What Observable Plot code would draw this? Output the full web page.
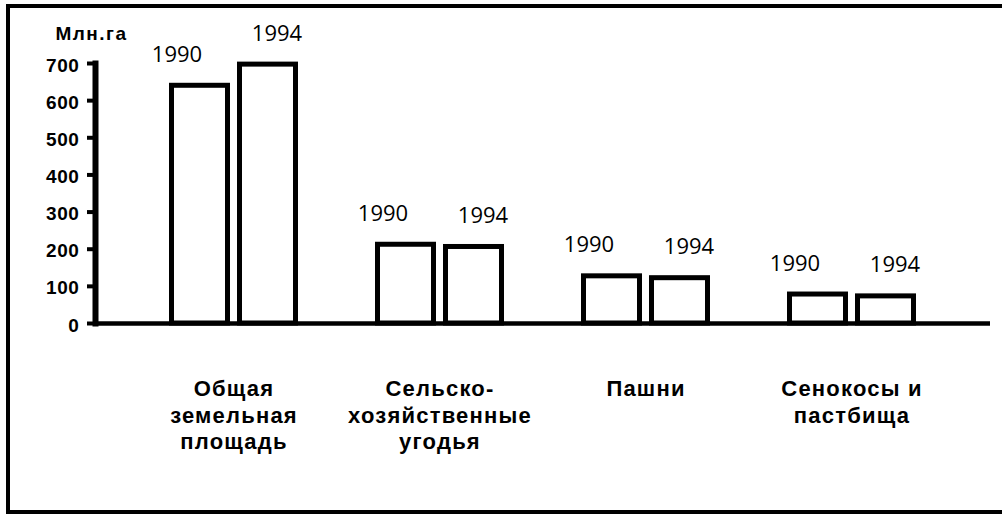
<!DOCTYPE html>
<html>
<head>
<meta charset="utf-8">
<script src="https://cdn.jsdelivr.net/npm/d3@7"></script>
<script src="https://cdn.jsdelivr.net/npm/@observablehq/plot@0.6"></script>
<style>
  html, body { margin: 0; padding: 0; background: white; }
  #chart svg { display: block; }
  .ytick text { letter-spacing: 0.6px; }
  .ylab text { letter-spacing: 1.5px; }
  .cat text { letter-spacing: 1.2px; }
</style>
</head>
<body>
<div id="chart"></div>
<script>
const categories = [
  "Общая\nземельная\nплощадь",
  "Сельско-\nхозяйственные\nугодья",
  "Пашни",
  "Сенокосы и\nпастбища"
];
const years = ["1990", "1994"];
const values1990 = [640, 212, 127, 78];
const values1994 = [697, 206, 122, 73];
const yTicks = [0, 100, 200, 300, 400, 500, 600, 700];
const yLabel = "Млн.га";

const rows = [];
categories.forEach((c, i) => {
  rows.push({category: c, year: years[0], value: values1990[i]});
  rows.push({category: c, year: years[1], value: values1994[i]});
});
const r1990 = rows.filter(d => d.year === years[0]);
const r1994 = rows.filter(d => d.year === years[1]);

const barStyle = {x: "category", y: "value", fill: "white", stroke: "black", strokeWidth: 5, strokeLinejoin: "miter", insetLeft: 54.5, insetRight: 54.5};
const yearText = {x: "category", y: "value", text: "year", fontFamily: "Open Sans", fontSize: 22, lineAnchor: "middle", dy: -31};

const chart = Plot.plot({
  width: 1002,
  height: 514,
  marginLeft: 95,
  marginRight: 12,
  marginTop: 63,
  marginBottom: 191,
  style: {background: "white", fontFamily: "Liberation Sans, Arial, sans-serif", color: "black", overflow: "visible"},
  x: {domain: categories, paddingInner: 0.2, paddingOuter: 0.27, axis: null},
  y: {domain: [0, 700]},
  marks: [
    Plot.barY(r1990, {...barStyle, dx: -34}),
    Plot.barY(r1994, {...barStyle, dx: 34}),
    Plot.ruleY([0], {strokeWidth: 4.5}),
    Plot.frame({anchor: "left", strokeWidth: 6, strokeLinecap: "square"}),
    Plot.axisY({ticks: yTicks, tickSize: 8, strokeWidth: 4, label: null, tickFormat: () => ""}),
    Plot.text(yTicks, {y: d => d, text: d => String(d), frameAnchor: "left", textAnchor: "end", lineAnchor: "middle", dx: -16, dy: 2, fontSize: 19, fontWeight: "bold", className: "ytick"}),
    Plot.text(r1990, {...yearText, dx: -57}),
    Plot.text(r1994, {...yearText, dx: 43}),
    Plot.text(categories, {x: d => d, text: d => d, frameAnchor: "bottom", lineAnchor: "top", dy: 54, lineHeight: 1.2, fontSize: 22, fontWeight: "bold", className: "cat"}),
    Plot.text([yLabel], {frameAnchor: "top-left", text: d => d, textAnchor: "middle", lineAnchor: "middle", dx: -4, dy: -30, fontSize: 19, fontWeight: "bold", className: "ylab"})
  ]
});

d3.select(chart).append("rect")
  .attr("x", 8).attr("y", 6).attr("width", 1000).attr("height", 506)
  .attr("fill", "none").attr("stroke", "black").attr("stroke-width", 4);

document.getElementById("chart").appendChild(chart);
</script>
</body>
</html>
